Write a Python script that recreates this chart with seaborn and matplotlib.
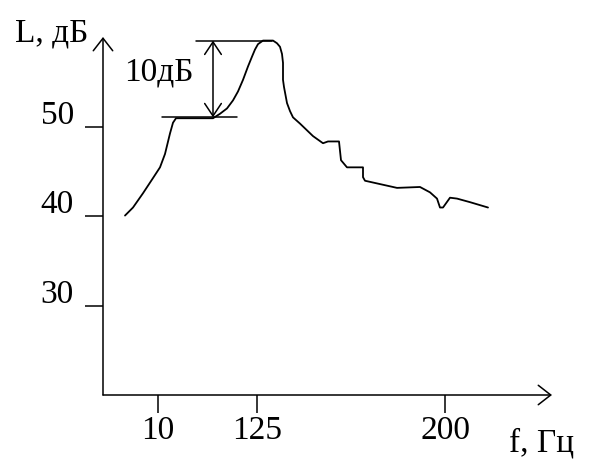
import matplotlib
matplotlib.use("Agg")
import matplotlib.pyplot as plt
import matplotlib.transforms as mtransforms
import seaborn as sns
import pandas as pd

# --- data (schematic frequency position units, level in dB) ---
freq_pos = [22, 30, 40, 50, 57, 62, 67, 70, 73, 110, 117, 124, 130, 135, 140,
            145, 149, 152, 155, 160, 170, 174, 177, 179, 180, 180, 181, 184,
            187, 190, 197, 210, 220, 225, 236, 238, 244,
            260, 260, 262, 282, 294, 317, 327, 334, 337, 340, 347, 354, 367, 385]
level_db = [40.1, 41.0, 42.6, 44.3, 45.5, 47.0, 49.3, 50.5, 51.0, 51.0, 51.5,
            52.1, 53.0, 54.0, 55.3, 56.8, 57.9, 58.7, 59.3, 59.7, 59.7, 59.4,
            59.0, 58.2, 57.2, 55.3, 54.5, 52.7, 51.8, 51.1, 50.4, 49.0,
            48.2, 48.4, 48.4, 46.3, 45.5, 45.5, 44.4, 44.0, 43.5, 43.2, 43.3,
            42.7, 42.0, 41.0, 41.0, 42.1, 42.0, 41.6, 41.0]
x_tick_pos = [55, 154, 342]
x_tick_labels = ["10", "125", "200"]
y_ticks = [30, 40, 50]
y_tick_labels = ["30", "40", "50"]
dim_low, dim_high = 51.1, 59.7
dim_low_span = (59, 134)
dim_high_span = (93, 169)
dim_x = 110

df = pd.DataFrame({"f": freq_pos, "L": level_db})

sns.set_theme(style="white")
plt.rcParams["font.family"] = ["Liberation Serif", "DejaVu Serif"]
FS = 24

fig = plt.figure(figsize=(5.95, 4.62), dpi=100)
ax = fig.add_axes([103 / 595, (462 - 395) / 462, 449 / 595, (395 - 37) / 462])
ax.set_facecolor("white")

sns.lineplot(data=df, x="f", y="L", sort=False, estimator=None,
             color="black", lw=1.3, ax=ax)

ax.set_xlim(0, 449)
ax.set_ylim(20, 60.1)
for s in ax.spines.values():
    s.set_visible(False)
ax.set_xlabel("")
ax.set_ylabel("")

ax.set_xticks(x_tick_pos)
ax.set_xticklabels(x_tick_labels, fontsize=FS)
ax.set_yticks(y_ticks)
ax.set_yticklabels(y_tick_labels, fontsize=FS)
ax.tick_params(axis="both", direction="out", length=13, width=1.1,
               color="black", labelcolor="black", left=True, bottom=True)
ax.tick_params(axis="x", pad=2)
ax.tick_params(axis="y", pad=8)

offset = mtransforms.ScaledTranslation(0, 3 / 100, fig.dpi_scale_trans)
for lab in ax.get_yticklabels():
    lab.set_transform(lab.get_transform() + offset)
    lab.set_verticalalignment("baseline")

arrow_kw = dict(arrowstyle="->,head_length=0.9,head_width=0.7", lw=1.1,
                color="black", shrinkA=0, shrinkB=0, mutation_scale=10)
ax.annotate("", xy=(1, 0), xytext=(0, 0), xycoords="axes fraction",
            arrowprops=arrow_kw)
ax.annotate("", xy=(0, 1), xytext=(0, 0), xycoords="axes fraction",
            arrowprops=arrow_kw)

# dimension lines
ax.plot(dim_low_span, [dim_low, dim_low], color="black", lw=1.1)
ax.plot(dim_high_span, [dim_high, dim_high], color="black", lw=1.1)
ax.annotate("", xy=(dim_x, dim_high), xytext=(dim_x, dim_low),
            xycoords="data",
            arrowprops=dict(arrowstyle="<->,head_length=0.9,head_width=0.6",
                            lw=1.1, color="black", shrinkA=0, shrinkB=0,
                            mutation_scale=10))
ax.text(dim_x - 19, 56.2, "10дБ", fontsize=FS, ha="right", va="center",
        color="black")

fig.text(15 / 595, 1 - 42 / 462, "L, дБ", fontsize=FS, ha="left",
         va="baseline", color="black")
fig.text(542 / 595, 1 - 452 / 462, "f, Гц", fontsize=FS, ha="center",
         va="baseline", color="black")

fig.savefig("out.png", dpi=100, facecolor="white")
